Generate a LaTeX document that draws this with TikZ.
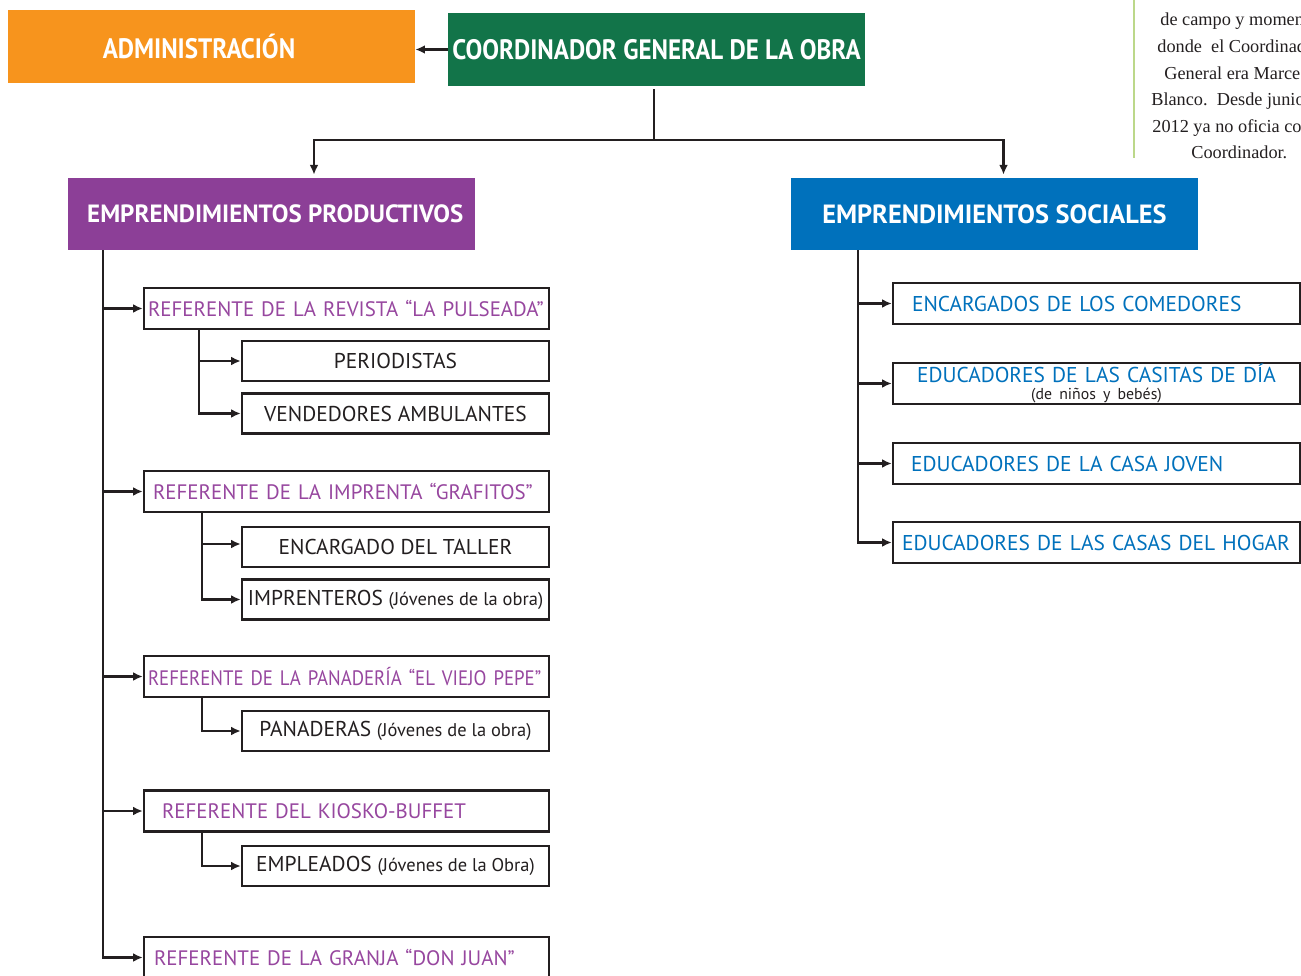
\documentclass[tikz,border=0pt]{standalone}
\usepackage{fontspec}
\setmainfont{PT Sans}
\newfontfamily\condfont[FakeStretch=0.89]{PT Sans}
\newfontfamily\narrowfont[FakeStretch=0.9]{PT Sans}
\newfontfamily\notefont{Liberation Serif}
\usepackage{xcolor}
\usepackage{tikz}
\usetikzlibrary{arrows.meta, positioning}
\definecolor{adminorange}{HTML}{F7941D}
\definecolor{coordgreen}{HTML}{127449}
\definecolor{prodpurple}{HTML}{8C3F97}
\definecolor{socblue}{HTML}{0071BC}
\definecolor{refpurple}{HTML}{97479F}
\definecolor{inkblack}{HTML}{231F20}
\definecolor{notegreen}{HTML}{BCD88A}
\newcommand\jovtext[1]{{\fontsize{10.5}{12}\selectfont #1}}
\tikzset{
  adminnode/.style={fill=adminorange, text=white, minimum width=8.14cm, minimum height=1.46cm, inner sep=0pt, align=center, font=\fontsize{16}{18}\condfont\bfseries},
  coordnode/.style={fill=coordgreen, text=white, minimum width=8.34cm, minimum height=1.46cm, inner sep=0pt, align=center, font=\fontsize{16}{18}\condfont\bfseries},
  prodnode/.style={fill=prodpurple, text=white, minimum width=8.14cm, minimum height=1.44cm, inner sep=0pt, align=center, font=\fontsize{14.2}{16}\selectfont\bfseries},
  socnode/.style={fill=socblue, text=white, minimum width=8.14cm, minimum height=1.44cm, inner sep=0pt, align=center, font=\fontsize{15}{17}\selectfont\bfseries},
  refbox/.style={draw=inkblack, line width=1.4pt, fill=white, text=refpurple, minimum width=8.1cm, minimum height=0.82cm, inner xsep=0.08cm, inner ysep=0pt, text width=7.94cm, align=left, font=\fontsize{11.9}{14}\selectfont},
  subbox/.style={draw=inkblack, line width=1.4pt, fill=white, text=inkblack, minimum width=6.14cm, minimum height=0.8cm, inner sep=0pt, align=center, font=\fontsize{12.2}{14}\selectfont},
  socbox/.style={draw=inkblack, line width=1.4pt, fill=white, text=socblue, minimum width=8.14cm, minimum height=0.82cm, inner xsep=0.18cm, inner ysep=0pt, text width=7.78cm, align=left, font=\fontsize{12.2}{14}\selectfont},
  conn/.style={line width=1.2pt, draw=inkblack},
  arrline/.style={conn, -{Latex[length=5.5pt, width=5pt]}},
  noteline/.style={anchor=base west, inner sep=0pt, text=inkblack, font=\fontsize{10.4}{12}\notefont}
}

\begin{document}
\begin{tikzpicture}[x=0.02cm, y=-0.02cm]
  \useasboundingbox (0,0) rectangle (1301,976);
  \clip (0,0) rectangle (1301,976);

  % top level
  \node[adminnode] at (211.5,46.5) (admin) {ADMINISTRACIÓN\hspace*{0.5cm}};
  \node[coordnode] at (656.5,49.5) (coord) {COORDINADOR GENERAL DE LA OBRA};
  \node[prodnode] at (271.5,214) (prod) {\hspace*{0.15cm}EMPRENDIMIENTOS PRODUCTIVOS};
  \node[socnode] at (994.5,214) (soc) {EMPRENDIMIENTOS SOCIALES};

  \draw[arrline] (coord.west) -- (coord.west -| admin.east);
  \coordinate (split) at (654,140);
  \draw[conn] ([yshift=-0.06cm]coord.south -| split) -- (split);
  \draw[arrline] (split) -| ([xshift=0.85cm,yshift=0.06cm]prod.north);
  \draw[arrline] (split) -| ([xshift=0.18cm,yshift=0.06cm]soc.north);

  % productivos
  \node[refbox] at (346.5,308.5) (revista) {REFERENTE DE LA REVISTA “LA PULSEADA”};
  \node[subbox] at (395.5,361) (periodistas) {PERIODISTAS};
  \node[subbox] at (395.5,413.5) (vendedores) {VENDEDORES AMBULANTES};
  \node[refbox] at (346.5,491.5) (imprenta) {\hspace*{0.1cm}REFERENTE DE LA IMPRENTA “GRAFITOS”};
  \node[subbox] at (395.5,547) (taller) {ENCARGADO DEL TALLER};
  \node[subbox] at (395.5,599.5) (imprenteros) {IMPRENTEROS \jovtext{(Jóvenes de la obra)}};
  \node[refbox, font=\fontsize{11.9}{14}\narrowfont] at (346.5,676.5) (panaderia)
    {REFERENTE DE LA PANADERÍA “EL VIEJO PEPE”};
  \node[subbox] at (395.5,731) (panaderas) {PANADERAS \jovtext{(Jóvenes de la obra)}};
  \node[refbox] at (346.5,811) (kiosko) {\hspace*{0.28cm}REFERENTE DEL KIOSKO-BUFFET};
  \node[subbox] at (395.5,866) (empleados) {EMPLEADOS \jovtext{(Jóvenes de la Obra)}};
  \node[refbox] at (346.5,957.5) (granja) {\hspace*{0.12cm}REFERENTE DE LA GRANJA “DON JUAN”};

  \coordinate (ptop) at ([xshift=0.7cm]prod.south west);
  \foreach \n in {revista, imprenta, panaderia, kiosko, granja}
    \draw[arrline] (ptop) |- (\n.west);
  \draw[arrline] ([xshift=1.12cm]revista.south west) |- (periodistas.west);
  \draw[arrline] ([xshift=1.12cm]revista.south west) |- (vendedores.west);
  \draw[arrline] ([xshift=1.18cm]imprenta.south west) |- ([yshift=0.06cm]taller.west);
  \draw[arrline] ([xshift=1.18cm]imprenta.south west) |- (imprenteros.west);
  \draw[arrline] ([xshift=1.18cm]panaderia.south west) |- (panaderas.west);
  \draw[arrline] ([xshift=1.18cm]kiosko.south west) |- (empleados.west);

  % sociales
  \node[socbox] at (1096.5,303.5) (comedores) {\hspace*{0.2cm}ENCARGADOS DE LOS COMEDORES};
  \node[socbox, align=center] at (1096.5,383.5) (casitas)
    {EDUCADORES DE LAS CASITAS DE DÍA\\[-4pt]
     {\fontsize{9}{10}\selectfont\color{inkblack}(de niños y bebés)}};
  \node[socbox] at (1096.5,463.5) (joven) {\hspace*{0.18cm}EDUCADORES DE LA CASA JOVEN};
  \node[socbox] at (1096.5,542.5) (hogar) {EDUCADORES DE LAS CASAS DEL HOGAR};

  \coordinate (stop) at ([xshift=1.34cm]soc.south west);
  \foreach \n in {comedores, casitas, joven, hogar}
    \draw[arrline] (stop) |- (\n.west);

  % side note, cut by the page edge
  \coordinate (notetop) at (1134,0);
  \coordinate (notebot) at (1134,158);
  \draw[notegreen, line width=1.2pt] (notetop) -- (notebot);
  \node[noteline] at (1160,26) (note1) {de campo y momen};
  \node[noteline] at (1157,53) (note2) {donde\ \ el Coordinad};
  \node[noteline] at (1164,80) (note3) {General era Marce};
  \node[noteline] at (1151,106) (note4) {Blanco.\ \ Desde junio};
  \node[noteline] at (1152,133) (note5) {2012 ya no oficia co};
  \node[noteline] at (1191,159) (note6) {Coordinador.};
\end{tikzpicture}
\end{document}
